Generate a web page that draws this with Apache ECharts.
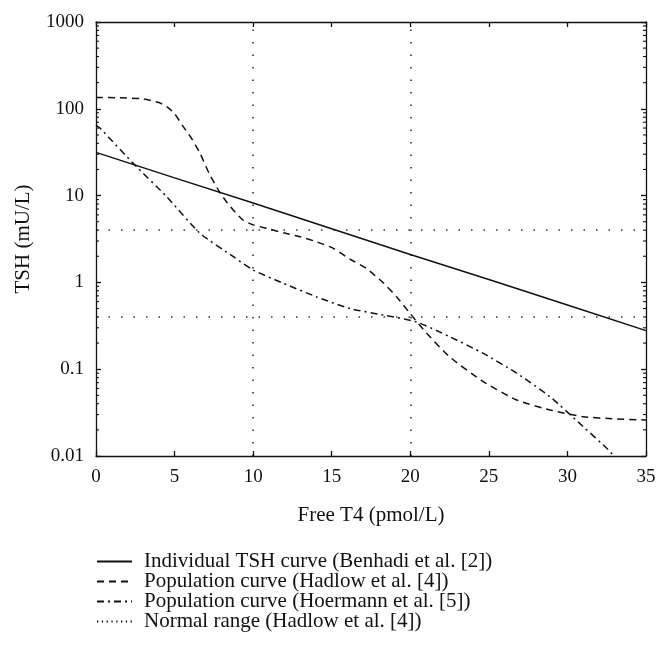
<!DOCTYPE html>
<html>
<head>
<meta charset="utf-8">
<script src="https://cdn.jsdelivr.net/npm/echarts@6/dist/echarts.min.js"></script>
<style>html,body{margin:0;padding:0;background:#fff;}#c{width:671px;height:665px;}</style>
</head>
<body>
<div id="c"></div>
<script>
// ---- data ----
const seriesNames = [
  'Individual TSH curve (Benhadi et al. [2])',
  'Population curve (Hadlow et al. [4])',
  'Population curve (Hoermann et al. [5])',
  'Normal range (Hadlow et al. [4])'
];
const benhadiX = [0, 5, 10, 15, 20, 25, 30, 35];
const benhadiY = [31.5, 16, 8.2, 4.15, 2.1, 1.08, 0.55, 0.278];

const hadlowX = [0, 1.5, 3.0, 4.0, 4.5, 5.0, 5.56, 6.1, 6.62, 7.2, 7.89, 8.3, 8.74, 9.37, 10.0, 10.85, 12.0, 12.98, 14.0, 15.1, 16.16, 17.2, 18.3, 19.14, 19.98, 21.04, 22.5, 24.65, 26.77, 28.9, 31.0, 33.0, 35];
const hadlowY = [135, 134, 130, 118, 106, 88, 62, 45, 30.7, 18, 10.8, 8.5, 6.8, 5.2, 4.6, 4.2, 3.7, 3.36, 2.95, 2.47, 1.85, 1.45, 0.98, 0.68, 0.44, 0.26, 0.139, 0.0718, 0.0442, 0.0339, 0.0284, 0.0268, 0.026];

const hoermannX = [0, 0.25, 2.37, 4.5, 6.62, 8.74, 10.0, 11.9, 14.05, 16.16, 18.28, 20.4, 22.5, 24.65, 26.77, 28.9, 31.0, 32.5, 33.0];
const hoermannY = [65, 60, 23.5, 9.7, 3.68, 1.98, 1.39, 0.98, 0.68, 0.50, 0.42, 0.35, 0.237, 0.152, 0.090, 0.048, 0.0218, 0.0123, 0.0098];

const normalRangeX = [10, 20];      // FT4 limits
const normalRangeY = [0.4, 4];      // TSH limits

const xMin = 0, xMax = 35, xStep = 5;
const yMin = 0.01, yMax = 1000;
const yTickLabels = ['0.01', '0.1', '1', '10', '100', '1000'];
const minorMultipliers = [2, 3, 4, 5, 6, 7, 8, 9];
const xAxisTitle = 'Free T4 (pmol/L)';
const yAxisTitle = 'TSH (mU/L)';

// ---- build ----
const pairs = (xs, ys) => xs.map((x, i) => [x, ys[i]]);
const minorTickValues = [];
for (let e = -2; e < 3; e++) minorMultipliers.forEach(m => minorTickValues.push(m * Math.pow(10, e)));

const FONT = '"Liberation Serif", "DejaVu Serif", serif';
const black = '#111';

const axisLineStyle = { show: true, onZero: false, lineStyle: { color: black, width: 1.3 } };
const xAxisBase = {
  type: 'value', min: xMin, max: xMax, interval: xStep,
  axisLine: axisLineStyle,
  axisTick: { show: true, inside: true, length: 5, lineStyle: { color: black, width: 1.3 } },
  splitLine: { show: false }
};
const yAxisBase = {
  type: 'log', logBase: 10, min: yMin, max: yMax,
  axisLine: axisLineStyle,
  axisTick: { show: true, inside: true, length: 5, lineStyle: { color: black, width: 1.3 } },
  splitLine: { show: false }, minorTick: { show: false }
};

const option = {
  animation: false,
  backgroundColor: '#fff',
  textStyle: { fontFamily: FONT, color: black },
  grid: { left: 96, right: 25, top: 22, bottom: 209, containLabel: false },
  xAxis: [
    Object.assign({}, xAxisBase, {
      position: 'bottom',
      axisLabel: { color: black, fontFamily: FONT, fontSize: 19, margin: 12 },
      name: xAxisTitle, nameLocation: 'middle', nameGap: 49,
      nameTextStyle: { color: black, fontFamily: FONT, fontSize: 21 }
    }),
    Object.assign({}, xAxisBase, { position: 'top', axisLabel: { show: false } })
  ],
  yAxis: [
    Object.assign({}, yAxisBase, {
      position: 'left',
      axisLabel: {
        color: black, fontFamily: FONT, fontSize: 19, margin: 12,
        formatter: v => yTickLabels[Math.round(Math.log10(v)) + 2]
      },
      name: yAxisTitle, nameLocation: 'middle', nameGap: 62, nameRotate: 90,
      nameTextStyle: { color: black, fontFamily: FONT, fontSize: 21 }
    }),
    Object.assign({}, yAxisBase, { position: 'right', axisLabel: { show: false } })
  ],
  legend: {
    orient: 'vertical', left: 96, top: 551,
    itemWidth: 35, itemHeight: 12, itemGap: -1, padding: 0,
    data: seriesNames,
    itemStyle: { color: 'rgba(0,0,0,0)', borderWidth: 0, opacity: 0 },
    textStyle: { color: black, fontFamily: FONT, fontSize: 21, padding: [0, 0, 0, 7] }
  },
  series: [
    {
      name: seriesNames[0], type: 'line', symbol: 'none',
      data: pairs(benhadiX, benhadiY),
      lineStyle: { color: black, width: 1.5, type: 'solid' },
      itemStyle: { color: black }
    },
    {
      name: seriesNames[1], type: 'line', symbol: 'none', smooth: 0.2,
      data: pairs(hadlowX, hadlowY),
      lineStyle: { color: black, width: 1.5, type: [7, 5] },
      itemStyle: { color: black }
    },
    {
      name: seriesNames[2], type: 'line', symbol: 'none', smooth: 0.2,
      data: pairs(hoermannX, hoermannY),
      lineStyle: { color: black, width: 1.5, type: [7, 4, 2, 4] },
      itemStyle: { color: black }
    },
    {
      name: seriesNames[3], type: 'line', symbol: 'none',
      data: [],
      lineStyle: { color: black, width: 1.3, type: [1.3, 3.5] },
      itemStyle: { color: black },
      markLine: {
        silent: true, symbol: 'none', label: { show: false },
        lineStyle: { color: black, width: 1.6, type: [1.5, 11], opacity: 0.85 },
        data: normalRangeX.map(v => ({ xAxis: v })).concat(normalRangeY.map(v => ({ yAxis: v })))
      }
    },
    {
      name: 'minor ticks', type: 'custom', silent: true, clip: false,
      data: minorTickValues.map(v => [xMin, v]),
      renderItem: function (params, api) {
        const v = api.value(1);
        const pl = api.coord([xMin, v]);
        const pr = api.coord([xMax, v]);
        const st = { stroke: black, lineWidth: 1.1 };
        return {
          type: 'group',
          children: [
            { type: 'line', shape: { x1: pl[0], y1: pl[1], x2: pl[0] + 3, y2: pl[1] }, style: st },
            { type: 'line', shape: { x1: pr[0], y1: pr[1], x2: pr[0] - 3, y2: pr[1] }, style: st }
          ]
        };
      }
    }
  ]
};

const chart = echarts.init(document.getElementById('c'), null, { renderer: 'canvas' });
chart.setOption(option);
</script>
</body>
</html>
